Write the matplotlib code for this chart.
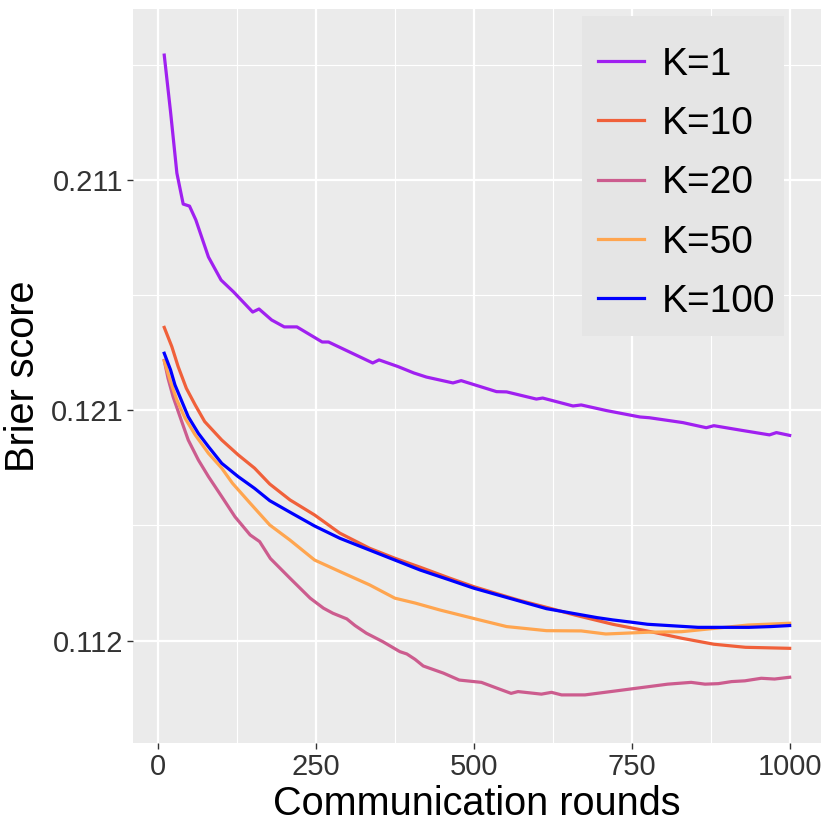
import matplotlib
matplotlib.use("Agg")
import matplotlib.pyplot as plt
from matplotlib.ticker import FixedLocator
from matplotlib.patches import Rectangle

plt.rcParams['font.family'] = ['Liberation Sans', 'DejaVu Sans']

# Values
k1_x = [10, 20, 30, 40, 50, 60, 80, 100, 120, 135, 150, 160, 180, 200, 220, 260, 270,
        340, 350, 380, 405, 425, 467, 480, 536, 552, 599, 609, 657, 670, 710, 763, 778,
        831, 868, 880, 921, 968, 979, 1000]
k1_y = [0.13488, 0.13266, 0.13027, 0.12906, 0.12898, 0.12844, 0.12699, 0.12609, 0.12562,
        0.12523, 0.12484, 0.12496, 0.12453, 0.12426, 0.12426, 0.12367, 0.12367, 0.12285,
        0.12297, 0.12271, 0.12246, 0.12230, 0.12207, 0.12216, 0.12173, 0.12172, 0.12144,
        0.12148, 0.12117, 0.12121, 0.12099, 0.12074, 0.12071, 0.12052, 0.12032, 0.12040,
        0.12023, 0.12004, 0.12013, 0.12002]

k10_x = [10, 22, 32, 45, 59, 74, 101, 127, 153, 177, 209, 248, 288, 335, 375, 415, 462,
         500, 570, 620, 660, 720, 780, 830, 880, 930, 1000]
k10_y = [0.12424, 0.12349, 0.12271, 0.12186, 0.12121, 0.12056, 0.11984, 0.11926, 0.11874,
         0.11812, 0.11750, 0.11691, 0.11620, 0.11561, 0.11522, 0.11487, 0.11444, 0.11411,
         0.11359, 0.11327, 0.11300, 0.11264, 0.11235, 0.11209, 0.11186, 0.11174, 0.11170]

k20_x = [10, 16, 24, 35, 48, 64, 80, 101, 122, 146, 161, 178, 209, 241, 262, 277, 299, 312,
         330, 356, 383, 394, 407, 420, 452, 477, 512, 537, 559, 570, 607, 623, 639, 676, 723,
         776, 807, 844, 866, 887, 908, 929, 955, 976, 1000]
k20_y = [0.12295, 0.12225, 0.12153, 0.12075, 0.11984, 0.11906, 0.11841, 0.11763, 0.11684,
         0.11613, 0.11587, 0.11521, 0.11444, 0.11366, 0.11327, 0.11307, 0.11285, 0.11259,
         0.11229, 0.11196, 0.11157, 0.11148, 0.11127, 0.11101, 0.11073, 0.11046, 0.11037,
         0.11014, 0.10994, 0.11001, 0.10991, 0.10998, 0.10988, 0.10988, 0.11003, 0.11020,
         0.11030, 0.11037, 0.11030, 0.11032, 0.11040, 0.11043, 0.11053, 0.11050, 0.11057]

k50_x = [10, 20, 30, 43, 59, 80, 101, 118, 146, 177, 209, 248, 288, 335, 375, 407, 446,
         509, 552, 615, 670, 709, 776, 829, 881, 934, 1000]
k50_y = [0.12293, 0.12212, 0.12140, 0.12069, 0.12004, 0.11932, 0.11874, 0.11815, 0.11737,
         0.11652, 0.11593, 0.11515, 0.11470, 0.11418, 0.11366, 0.11347, 0.11320, 0.11281,
         0.11255, 0.11239, 0.11238, 0.11226, 0.11233, 0.11235, 0.11248, 0.11261, 0.11268]

k100_x = [10, 20, 27, 38, 48, 64, 80, 101, 127, 153, 177, 209, 248, 288, 335, 375, 415,
          462, 500, 615, 695, 720, 750, 775, 795, 855, 935, 970, 1000]
k100_y = [0.12323, 0.12258, 0.12199, 0.12134, 0.12075, 0.12010, 0.11958, 0.11893, 0.11841,
          0.11795, 0.11747, 0.11702, 0.11648, 0.11600, 0.11554, 0.11515, 0.11476, 0.11437,
          0.11405, 0.11325, 0.11290, 0.11281, 0.11272, 0.11264, 0.11261, 0.11252, 0.11252,
          0.11255, 0.11259]

labels = ["K=1", "K=10", "K=20", "K=50", "K=100"]
colors = ["#A020F0", "#F0603A", "#CC5C8E", "#FFA54F", "#0000FF"]

y_ticks = [0.112, 0.121, 0.130]
y_tick_labels = ["0.112", "0.121", "0.211"]
x_ticks = [0, 250, 500, 750, 1000]

fig = plt.figure(figsize=(8.3, 8.3), dpi=100)
ax = fig.add_axes([0.1602, 0.1048, 0.8289, 0.8843])
ax.set_facecolor("#EBEBEB")

series = [(k1_x, k1_y), (k10_x, k10_y), (k20_x, k20_y), (k50_x, k50_y), (k100_x, k100_y)]
for (xs, ys), lab, col in zip(series, labels, colors):
    ax.plot(xs, ys, color=col, lw=2.3, label=lab, solid_joinstyle="round")

ax.set_xlim(-39.5, 1049.5)
ax.set_ylim(0.1080, 0.13668)

ax.set_xticks(x_ticks)
ax.set_yticks(y_ticks)
ax.set_yticklabels(y_tick_labels)
ax.xaxis.set_minor_locator(FixedLocator([125, 375, 625, 875]))
ax.yaxis.set_minor_locator(FixedLocator([0.1165, 0.1255, 0.1345]))

ax.grid(which="major", color="white", lw=1.6)
ax.grid(which="minor", color="white", lw=0.8)
ax.set_axisbelow(True)
for s in ax.spines.values():
    s.set_visible(False)

ax.tick_params(which="major", length=4, width=1, color="#333333",
               labelsize=21, labelcolor="#333333", pad=3)
ax.tick_params(which="minor", length=0)

ax.set_xlabel("Communication rounds", fontsize=28.5, labelpad=3)
ax.set_ylabel("Brier score", fontsize=28.5, labelpad=6)

# legend background box (ggplot-like key area)
ax.add_patch(Rectangle((0.6526, 0.5545), 0.2936, 0.4360, transform=ax.transAxes,
                       facecolor="#E5E5E5", edgecolor="none", zorder=3))
leg = ax.legend(loc="upper left", bbox_to_anchor=(0.6526, 0.9700), borderaxespad=0,
                fontsize=28, frameon=False, handlelength=1.2,
                handletextpad=0.45, labelspacing=0.6, borderpad=0.4)
leg.set_zorder(4)

fig.savefig("out.png", dpi=100)
